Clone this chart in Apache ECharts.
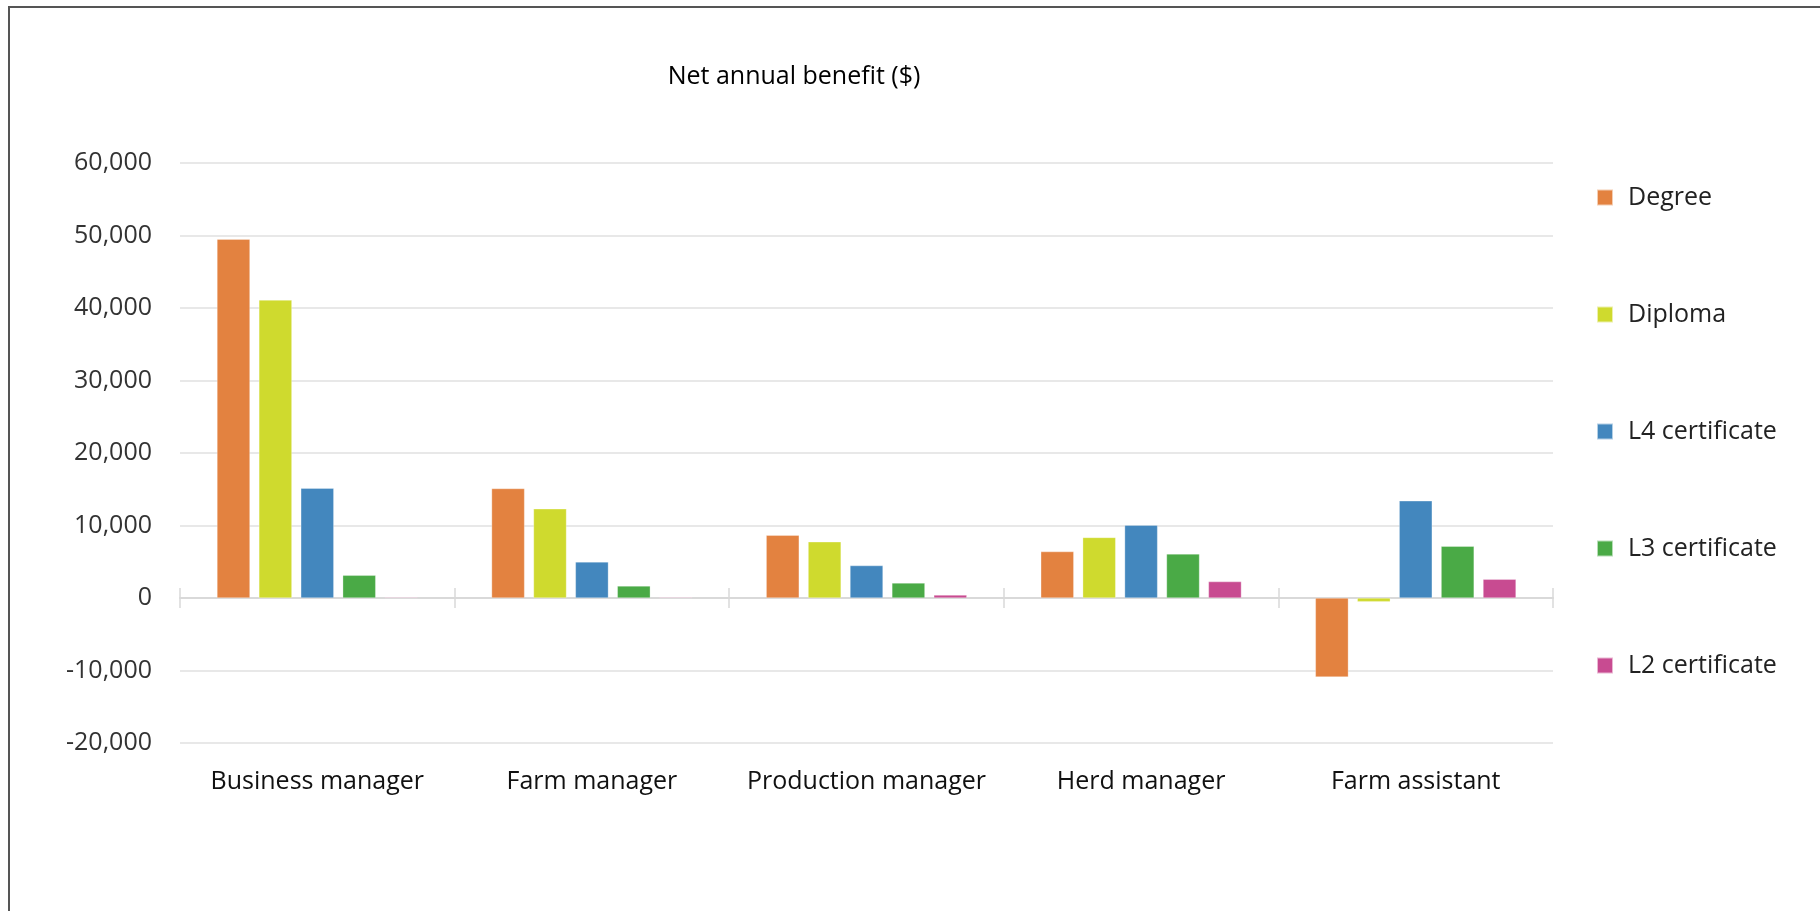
<!DOCTYPE html>
<html>
<head>
<meta charset="utf-8">
<script src="https://cdn.jsdelivr.net/npm/echarts@6/dist/echarts.min.js"></script>
<style>
html,body{margin:0;padding:0;background:#fff;}
#chart{width:1820px;height:911px;}
</style>
</head>
<body>
<div id="chart"></div>
<script>
const categories = ['Business manager', 'Farm manager', 'Production manager', 'Herd manager', 'Farm assistant'];
const degree = [49500, 15100, 8650, 6400, -10900];
const diploma = [41100, 12300, 7750, 8350, -500];
const l4 = [15150, 4980, 4470, 10050, 13400];
const l3 = [3130, 1660, 2070, 6080, 7140];
const l2 = [100, 100, 410, 2260, 2580];
const seriesNames = ['Degree', 'Diploma', 'L4 certificate', 'L3 certificate', 'L2 certificate'];
const colors = ['#E38240', '#CFDA2E', '#4387BE', '#4AAA46', '#C84B91'];
const yMin = -20000, yMax = 60000, yStep = 10000;

const font = 'Open Sans, Noto Sans, sans-serif';
const chart = echarts.init(document.getElementById('chart'), null, {renderer: 'canvas'});
const values = [degree, diploma, l4, l3, l2];
const gridBox = {left: 180, right: 267, top: 163, bottom: 168, containLabel: false};
const option = {
  animation: false,
  color: colors,
  title: {
    text: 'Net annual benefit ($)',
    left: 789, top: 59, textAlign: 'center',
    textStyle: {fontFamily: font, fontSize: 25, fontWeight: 'normal', color: '#000'}
  },
  graphic: [{
    type: 'polyline',
    shape: {points: [[9, 911], [9, 7], [1820, 7]]},
    style: {stroke: '#555', lineWidth: 2, fill: null}
  }],
  legend: {
    orient: 'vertical',
    left: 1591, top: 180,
    itemWidth: 16, itemHeight: 16, itemGap: 92,
    icon: 'rect',
    textStyle: {fontFamily: font, fontSize: 25, color: '#222', lineHeight: 24, padding: [0,0,0,10]},
    data: seriesNames
  },
  grid: [Object.assign({}, gridBox), Object.assign({}, gridBox)],
  xAxis: [{
    type: 'category',
    gridIndex: 0,
    data: categories,
    axisLine: {onZero: true, lineStyle: {color: '#d9d9d9', width: 2}},
    axisTick: {show: true, length: 10, lineStyle: {color: '#d9d9d9', width: 1.5}},
    axisLabel: {fontFamily: font, fontSize: 25, color: '#111', margin: 26, interval: 0},
    position: 'bottom'
  }, {
    type: 'category',
    gridIndex: 1,
    data: categories,
    position: 'bottom',
    axisLine: {show: false, onZero: true},
    axisTick: {show: true, inside: true, length: 10, lineStyle: {color: '#d9d9d9', width: 1.5}},
    axisLabel: {show: false},
    splitLine: {show: false}
  }],
  yAxis: [{
    type: 'value',
    gridIndex: 0,
    min: yMin, max: yMax, interval: yStep,
    axisLine: {show: false},
    axisTick: {show: false},
    splitLine: {lineStyle: {color: '#e0e0e0', width: 1.5}},
    axisLabel: {
      fontFamily: font, fontSize: 25, color: '#333', margin: 28,
      formatter: v => v.toLocaleString('en-US')
    }
  }, {
    type: 'value',
    gridIndex: 1,
    min: yMin, max: yMax, interval: yStep,
    axisLine: {show: false},
    axisTick: {show: false},
    splitLine: {show: false},
    axisLabel: {show: false}
  }],
  series: values.map((d, i) => ({
    name: seriesNames[i],
    type: 'bar',
    xAxisIndex: 0, yAxisIndex: 0,
    data: d,
    barWidth: 33,
    barGap: '27%',
    itemStyle: {color: colors[i], borderColor: 'rgba(255,255,255,0.6)', borderWidth: 0.5}
  }))
};
chart.setOption(option);
</script>
</body>
</html>
